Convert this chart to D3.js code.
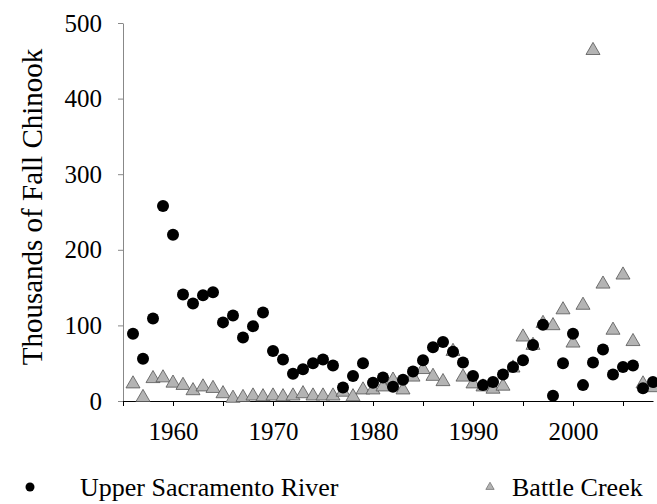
<!DOCTYPE html>
<html>
<head>
    <title>Fall Chinook</title>
    <meta charset="utf-8">
    <style>
        body { margin: 0; background: #fff; }
    </style>
</head>
<body>
<script src="https://d3js.org/d3.v7.min.js"></script>
<script>
    const SIZES = {
        WIDTH: 657,
        HEIGHT: 504,
        LEFT: 123,
        RIGHT: 653,
        TOP: 23,
        BOTTOM: 401
    };
    const FONT = "'Liberation Serif', 'DejaVu Serif', 'Times New Roman', serif";
    // Data (thousands of fish)
    const years = d3.range(1956, 2009);
    const upperSacramento = [
        89, 56, 109, 258, 220, 141, 129, 140, 144, 104,
        113, 84, 99, 117, 66, 55, 36, 42, 50, 55,
        47, 18, 33, 50, 24, 31, 19, 28, 39, 54,
        71, 78, 65, 51, 33, 21, 25, 35, 45, 54,
        74, 101, 7, 50, 89, 21, 51, 68, 35, 45,
        47, 17, 25
    ];
    const battleCreek = [
        24, 6, 31, 32, 25, 22, 15, 20, 18, 11,
        5, 6, 8, 7, 8, 7, 8, 11, 8, 8,
        8, 13, 7, 16, 16, 20, 29, 16, 33, 43,
        34, 27, 67, 33, 24, 20, 17, 21, 45, 86,
        75, 104, 101, 122, 78, 128, 465, 156, 95, 168,
        80, 24, 19
    ];
    const yTicks = [0, 100, 200, 300, 400, 500];
    const xTicks = d3.range(1955, 2009, 5);
    const xLabels = [1960, 1970, 1980, 1990, 2000];
    const seriesNames = ['Upper Sacramento River', 'Battle Creek'];

    const svg = d3.select('body').append('svg')
        .attr('width', SIZES.WIDTH)
        .attr('height', SIZES.HEIGHT);

    svg.append('rect').attr('width', SIZES.WIDTH).attr('height', SIZES.HEIGHT).attr('fill', '#fff');

    const x = d3.scaleLinear().domain([1955, 2008]).range([SIZES.LEFT, SIZES.RIGHT]);
    const y = d3.scaleLinear().domain([0, 500]).range([SIZES.BOTTOM, SIZES.TOP]);

    // y axis
    const yAxis = svg.append('g')
        .attr('transform', `translate(${SIZES.LEFT},0)`)
        .call(d3.axisLeft(y).tickValues(yTicks).tickSize(5).tickPadding(16).tickSizeOuter(0));
    yAxis.select('.domain').attr('stroke', '#888');
    yAxis.selectAll('.tick line').attr('stroke', '#888');
    yAxis.selectAll('text').style('font-family', FONT).style('font-size', '25px').attr('fill', '#000');

    // x axis
    const xAxis = svg.append('g')
        .attr('transform', `translate(0,${SIZES.BOTTOM})`)
        .call(d3.axisBottom(x).tickValues(xTicks).tickSize(5).tickPadding(16).tickSizeOuter(0)
            .tickFormat(d => xLabels.includes(d) ? d : ''));
    xAxis.select('.domain').attr('stroke', '#000');
    xAxis.selectAll('.tick line').attr('stroke', '#000');
    xAxis.selectAll('text').style('font-family', FONT).style('font-size', '25px').attr('fill', '#000');

    // y title
    svg.append('text')
        .attr('transform', 'translate(42,207) rotate(-90)')
        .attr('text-anchor', 'middle')
        .style('font-family', FONT)
        .style('font-size', '29px')
        .text('Thousands of Fall Chinook');

    const tri = d3.symbol().type(d3.symbolTriangle);

    // Battle Creek triangles
    svg.append('g').selectAll('path')
        .data(years.map((yr, i) => [yr, battleCreek[i]]))
        .join('path')
        .attr('transform', d => `translate(${x(d[0])},${y(d[1]) + 1})`)
        .attr('d', tri.size(85))
        .attr('fill', '#b4b4b4')
        .attr('stroke', '#555')
        .attr('stroke-width', 0.8);

    // Upper Sacramento circles
    svg.append('g').selectAll('circle')
        .data(years.map((yr, i) => [yr, upperSacramento[i]]))
        .join('circle')
        .attr('cx', d => x(d[0]))
        .attr('cy', d => y(d[1]))
        .attr('r', 6)
        .attr('fill', '#000');

    // legend
    const legend = svg.append('g');
    legend.append('circle').attr('cx', 30).attr('cy', 487).attr('r', 4.5).attr('fill', '#000');
    legend.append('text').attr('x', 80).attr('y', 496).text(seriesNames[0]);
    legend.append('path')
        .attr('transform', 'translate(490,487)')
        .attr('d', d3.symbol().type(d3.symbolTriangle).size(30)())
        .attr('fill', '#b4b4b4').attr('stroke', '#555').attr('stroke-width', 0.6);
    legend.append('text').attr('x', 512).attr('y', 496).text(seriesNames[1]);
    legend.selectAll('text').style('font-family', FONT).style('font-size', '26px');
</script>
</body>
</html>
